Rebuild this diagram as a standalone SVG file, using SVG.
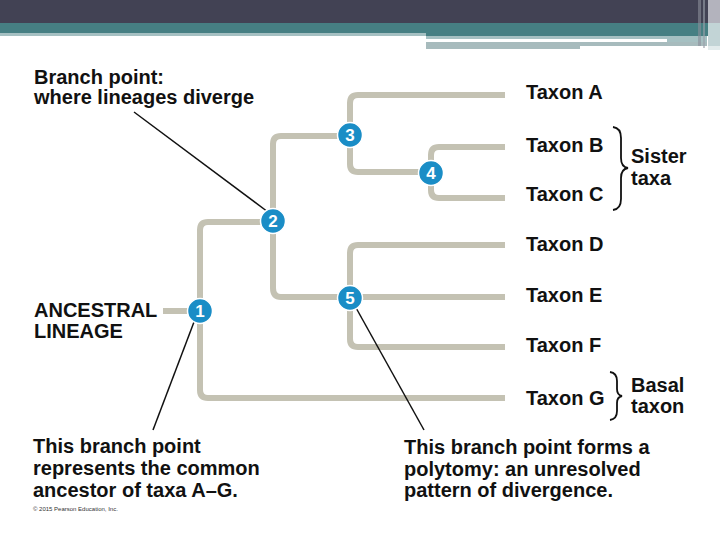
<svg xmlns="http://www.w3.org/2000/svg" width="720" height="540" viewBox="0 0 720 540">
<style>
.t{font-family:"Liberation Sans",Arial,sans-serif;font-weight:bold;font-size:20px;fill:#111}
.br{fill:none;stroke:#c4c2b3;stroke-width:6;stroke-linecap:butt}
.ld{fill:none;stroke:#111;stroke-width:1.5}
.nc{fill:#1a8dc6;stroke:#fff;stroke-width:1.5}
.nt{font-family:"Liberation Sans",Arial,sans-serif;font-weight:bold;font-size:17px;fill:#fff;text-anchor:middle}
.bc{fill:none;stroke:#111;stroke-width:1.8}
</style>
<rect width="720" height="540" fill="#fff"/>
<g id="header">
<rect x="0" y="0" width="720" height="23" fill="#424254"/>
<rect x="0" y="23" width="720" height="10" fill="#467f83"/>
<rect x="426" y="33" width="294" height="3" fill="#467f83"/>
<rect x="0" y="33" width="426" height="3" fill="#a5c0c2"/>
<rect x="426" y="36" width="241" height="3" fill="#a5c0c2"/>
<rect x="667" y="36" width="40" height="10" fill="#a5c0c2"/>
<rect x="426" y="42" width="154" height="7" fill="#a7bbbd"/>
<rect x="580" y="42" width="127" height="4" fill="#a7bbbd"/>
<rect x="698" y="0" width="3" height="46" fill="#8a8e9a" opacity="0.6"/>
<rect x="703" y="0" width="2" height="48" fill="#9aa0aa" opacity="0.6"/>
<rect x="708" y="0" width="12" height="23" fill="#b3b3bd"/>
<rect x="708" y="23" width="12" height="23" fill="#c2d4d6"/>
<rect x="708" y="46" width="12" height="4" fill="#e2ebec"/>
</g>
<g id="connectors">
<path class="br" d="M163 311 H200"/>
<path class="br" d="M273 222 H208 Q200 222 200 230 V390 Q200 398 208 398 H505"/>
<path class="br" d="M350 136 H281 Q273 136 273 144 V288 Q273 297 281 297 H505"/>
<path class="br" d="M505 95 H358 Q350 95 350 103 V164 Q350 172 358 172 H431"/>
<path class="br" d="M505 147 H439 Q431 147 431 155 V190 Q431 198 439 198 H505"/>
<path class="br" d="M505 245 H358 Q350 245 350 253 V339 Q350 347 358 347 H505"/>
<path class="ld" d="M134 112 L268 212"/>
<path class="ld" d="M194 322 L153 430"/>
<path class="ld" d="M355 306 L424 430"/>
<path class="bc" d="M613 127 Q621 128 621 138 V158 Q621 167 628 168 Q621 169 621 178 V199 Q621 209 613 210"/>
<path class="bc" d="M610 372 Q617 373 617 381 V389 Q617 395 622 396 Q617 397 617 403 V411 Q617 419 610 420"/>
</g>
<g id="n1"><circle class="nc" cx="200" cy="311" r="12.5"/><text class="nt" x="200" y="317">1</text></g>
<g id="n2"><circle class="nc" cx="273" cy="221" r="12.5"/><text class="nt" x="273" y="227">2</text></g>
<g id="n3"><circle class="nc" cx="350" cy="135" r="12.5"/><text class="nt" x="350" y="141">3</text></g>
<g id="n4"><circle class="nc" cx="431" cy="173" r="12.5"/><text class="nt" x="431" y="179">4</text></g>
<g id="n5"><circle class="nc" cx="350" cy="298" r="12.5"/><text class="nt" x="350" y="304">5</text></g>
<g id="taxa">
<text class="t" x="526" y="99">Taxon A</text>
<text class="t" x="526" y="152">Taxon B</text>
<text class="t" x="526" y="201">Taxon C</text>
<text class="t" x="526" y="251">Taxon D</text>
<text class="t" x="526" y="302">Taxon E</text>
<text class="t" x="526" y="352">Taxon F</text>
<text class="t" x="526" y="405">Taxon G</text>
<text class="t" x="631" y="163">Sister</text>
<text class="t" x="631" y="185">taxa</text>
<text class="t" x="631" y="392">Basal</text>
<text class="t" x="631" y="413">taxon</text>
</g>
<g id="labels">
<text class="t" x="34" y="84">Branch point:</text>
<text class="t" x="34" y="104">where lineages diverge</text>
<text class="t" x="34" y="317">ANCESTRAL</text>
<text class="t" x="34" y="338">LINEAGE</text>
<text class="t" x="33" y="453">This branch point</text>
<text class="t" x="33" y="475">represents the common</text>
<text class="t" x="33" y="497">ancestor of taxa A–G.</text>
<text class="t" x="404" y="454">This branch point forms a</text>
<text class="t" x="404" y="476">polytomy: an unresolved</text>
<text class="t" x="404" y="497">pattern of divergence.</text>
<text x="33" y="511" style="font-family:'Liberation Sans',Arial,sans-serif;font-size:6px;fill:#333">© 2015 Pearson Education, Inc.</text>
</g>
</svg>
